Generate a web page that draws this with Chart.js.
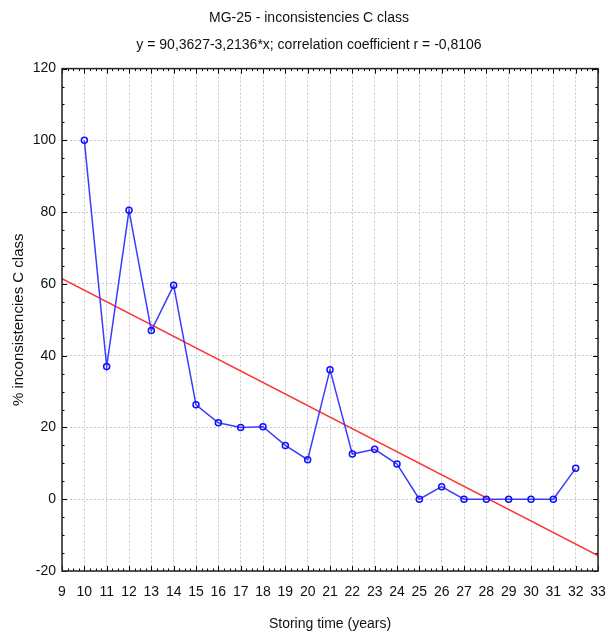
<!DOCTYPE html>
<html>
<head>
<meta charset="utf-8">
<script src="https://cdn.jsdelivr.net/npm/chart.js@4"></script>
<style>
  html, body { margin: 0; padding: 0; background: #fff; }
  #wrap { width: 608px; height: 637px; position: relative; }
</style>
</head>
<body>
<div id="wrap"><canvas id="c"></canvas></div>
<script>
// Storing time (years) and share of C-class inconsistencies (%)
const years = [10, 11, 12, 13, 14, 15, 16, 17, 18, 19, 20, 21, 22, 23, 24, 25, 26, 27, 28, 29, 30, 31, 32];
const inconsistencies = [100, 37, 80.5, 47, 59.6, 26.3, 21.3, 20, 20.2, 15, 11, 36.1, 12.6, 13.9, 9.8, 0, 3.5, 0, 0, 0, 0, 0, 8.6];

// Fitted line y = a + b*x
const intercept = 90.3627;
const slope = -3.2136;
const fitRange = [9, 33];

const xMin = 9, xMax = 33;
const yMin = -20, yMax = 120, yStep = 20;

const sans = "'Liberation Sans', Arial, sans-serif";

const points = years.map((x, i) => ({ x, y: inconsistencies[i] }));
const fitLine = fitRange.map(x => ({ x, y: intercept + slope * x }));

// Frame around the plot area plus inward major/minor tick marks on all four sides
const framePlugin = {
  id: 'frame',
  afterDatasetsDraw(chart) {
    const { ctx, chartArea: a, scales } = chart;
    const xs = scales.x, ys = scales.y;
    ctx.save();
    ctx.strokeStyle = '#000';
    ctx.lineWidth = 1;
    ctx.beginPath();
    // x ticks: major each year, minor at quarters
    for (let v = xMin; v <= xMax + 1e-9; v += 0.25) {
      const px = Math.round(xs.getPixelForValue(v)) + 0.5;
      const major = Math.abs(v - Math.round(v)) < 1e-9;
      const len = major ? 5 : 2.5;
      ctx.moveTo(px, a.bottom); ctx.lineTo(px, a.bottom - len);
      ctx.moveTo(px, a.top); ctx.lineTo(px, a.top + len);
    }
    // y ticks: major each 20, minor each 5
    for (let v = yMin; v <= yMax + 1e-9; v += 5) {
      const py = Math.round(ys.getPixelForValue(v)) + 0.5;
      const major = v % yStep === 0;
      const len = major ? 5 : 2.5;
      ctx.moveTo(a.left, py); ctx.lineTo(a.left + len, py);
      ctx.moveTo(a.right, py); ctx.lineTo(a.right - len, py);
    }
    ctx.stroke();
    ctx.lineWidth = 1.5;
    ctx.strokeStyle = '#222';
    ctx.strokeRect(a.left, a.top, a.right - a.left, a.bottom - a.top);
    ctx.restore();
  }
};

new Chart(document.getElementById('c'), {
  type: 'scatter',
  data: {
    datasets: [
      {
        label: 'inconsistencies',
        data: points,
        showLine: true,
        borderColor: '#3c3cff',
        borderWidth: 1.5,
        pointRadius: 3,
        pointBorderWidth: 1.5,
        pointBackgroundColor: 'rgba(255,255,255,0)',
        pointBorderColor: '#1010ff',
        order: 1
      },
      {
        label: 'fit',
        data: fitLine,
        showLine: true,
        borderColor: '#ff3030',
        borderWidth: 1.5,
        pointRadius: 0,
        order: 2
      }
    ]
  },
  options: {
    responsive: true,
    maintainAspectRatio: false,
    animation: false,
    layout: { padding: { left: 10, right: 0, top: 10, bottom: 0 } },
    plugins: {
      legend: { display: false },
      tooltip: { enabled: false },
      title: {
        display: true,
        text: 'MG-25 - inconsistencies C class',
        color: '#111',
        font: { family: sans, size: 14, weight: 'normal', lineHeight: 1.2 },
        padding: { top: 0, bottom: 10 }
      },
      subtitle: {
        display: true,
        text: 'y = 90,3627-3,2136*x; correlation coefficient r = -0,8106',
        color: '#111',
        font: { family: sans, size: 14, weight: 'normal', lineHeight: 1.2 },
        padding: { top: 0, bottom: 15 }
      }
    },
    scales: {
      x: {
        type: 'linear',
        min: xMin,
        max: xMax,
        ticks: {
          stepSize: 1,
          autoSkip: false,
          minRotation: 0,
          maxRotation: 0,
          color: '#111',
          font: { family: sans, size: 14 },
          padding: 13
        },
        grid: {
          color: '#c8c8c8',
          lineWidth: 1,
          drawTicks: false,
          tickLength: 0
        },
        border: { display: false, dash: [2, 2] },
        title: {
          display: true,
          text: 'Storing time (years)',
          color: '#111',
          font: { family: sans, size: 14 },
          padding: { top: 5, bottom: 4 }
        },
        afterFit(scale) {
          scale.height = 66;
          scale.paddingLeft = 0;
          scale.paddingRight = 10;
        }
      },
      y: {
        min: yMin,
        max: yMax,
        ticks: {
          stepSize: yStep,
          color: '#111',
          font: { family: sans, size: 14 },
          padding: 6
        },
        grid: {
          color: '#c8c8c8',
          lineWidth: 1,
          drawTicks: false,
          tickLength: 0
        },
        border: { display: false, dash: [2, 2] },
        title: {
          display: true,
          text: '% inconsistencies C class',
          color: '#111',
          font: { family: sans, size: 15 },
          padding: { top: 0, bottom: 6 }
        },
        afterFit(scale) { scale.width = 52; }
      }
    }
  },
  plugins: [framePlugin]
});
</script>
</body>
</html>
